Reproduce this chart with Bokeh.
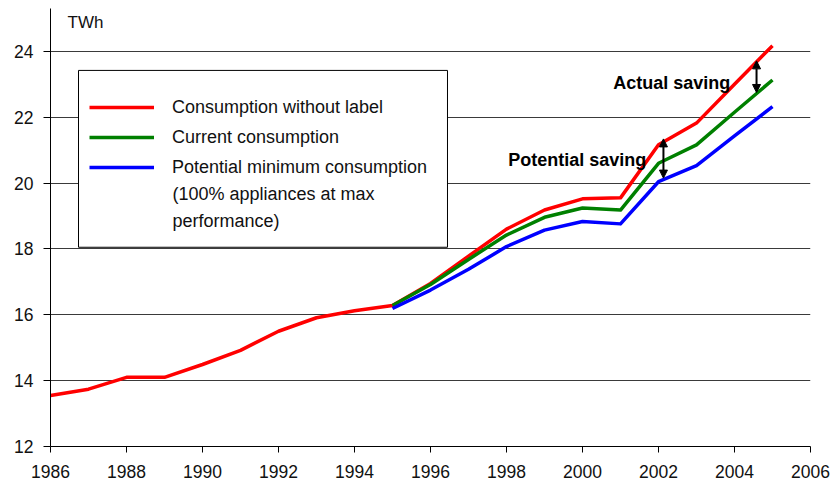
from bokeh.plotting import figure
from bokeh.models import (Range1d, FixedTicker, Legend, LegendItem, BoxAnnotation,
                          Label, Arrow, NormalHead)
from bokeh.embed import file_html
from bokeh.resources import INLINE

# ---- data ----
years = list(range(1986, 2006))
without_label = [13.55, 13.74, 14.10, 14.10, 14.49, 14.92, 15.50, 15.91, 16.12, 16.28,
                 16.95, 17.78, 18.60, 19.18, 19.52, 19.55, 21.16, 21.82, 23.00, 24.17]
years_new = list(range(1995, 2006))
current = [16.28, 16.92, 17.68, 18.42, 18.96, 19.24, 19.18, 20.60, 21.16, 22.15, 23.13]
potential_min = [16.19, 16.75, 17.38, 18.07, 18.57, 18.83, 18.76, 20.04, 20.53, 21.43, 22.32]

x_ticks = list(range(1986, 2007, 2))
y_ticks = list(range(12, 25, 2))

series_labels = ["Consumption without label", "Current consumption",
                 "Potential minimum consumption"]
extra_label_lines = ["(100% appliances at max", "performance)"]
unit_label = "TWh"
potential_text = "Potential saving"
actual_text = "Actual saving"

FONT = "Liberation Sans"

p = figure(width=831, height=483, output_backend="svg", toolbar_location=None,
           x_range=Range1d(1986, 2006), y_range=Range1d(12, 25.3),
           min_border_left=50, min_border_right=21, min_border_top=8, min_border_bottom=37)
p.outline_line_color = None
p.background_fill_color = "white"
p.border_fill_color = "white"

p.xgrid.visible = False
p.ygrid.ticker = FixedTicker(ticks=y_ticks)
p.ygrid.grid_line_color = "#3a3a3a"
p.ygrid.grid_line_width = 1

for ax in (p.xaxis[0], p.yaxis[0]):
    ax.axis_line_color = "black"
    ax.axis_line_width = 1
    ax.major_tick_line_color = "black"
    ax.major_tick_in = 0
    ax.minor_tick_line_color = None
    ax.major_label_text_font = FONT
    ax.major_label_text_font_size = "17.5px"
    ax.major_label_text_color = "#111111"

p.xaxis.ticker = FixedTicker(ticks=x_ticks)
p.xaxis.major_tick_out = 6
p.xaxis.major_label_standoff = 12
p.yaxis.ticker = FixedTicker(ticks=y_ticks)
p.yaxis.major_tick_out = 7
p.yaxis.major_label_standoff = 10

r_red = p.line(years, without_label, line_color="#ff0000", line_width=3.5, line_join="round")
r_green = p.line(years_new, current, line_color="#008000", line_width=3.5, line_join="round")
r_blue = p.line(years_new, potential_min, line_color="#0000ff", line_width=3.5, line_join="round")

# legend frame
box = BoxAnnotation(left=1986.737, right=1996.447, top=23.42, bottom=18.05,
                    fill_color="white", fill_alpha=1.0, line_color="black", line_width=1,
                    line_alpha=1.0)
p.add_layout(box)

legend = Legend(items=[LegendItem(label=series_labels[0], renderers=[r_red]),
                       LegendItem(label=series_labels[1], renderers=[r_green]),
                       LegendItem(label=series_labels[2], renderers=[r_blue])],
                location=(39, 267), glyph_width=65, glyph_height=24, label_height=24,
                spacing=6, label_standoff=18, padding=0, margin=0,
                border_line_color=None, background_fill_alpha=0,
                label_text_font=FONT, label_text_font_size="18px",
                label_text_color="#111111")
p.add_layout(legend)

for txt, yv in zip(extra_label_lines, [19.66, 18.84]):
    p.add_layout(Label(x=1989.21, y=yv, text=txt, text_baseline="middle",
                       text_font=FONT, text_font_size="18px", text_color="#111111"))

p.add_layout(Label(x=1986.45, y=24.88, text=unit_label, text_baseline="middle",
                   text_font=FONT, text_font_size="17px", text_color="#111111"))

p.add_layout(Label(x=2001.68, y=20.69, text=potential_text, text_align="right",
                   text_baseline="middle", text_font=FONT, text_font_size="18px",
                   text_font_style="bold", text_color="black"))
p.add_layout(Label(x=2003.89, y=23.03, text=actual_text, text_align="right",
                   text_baseline="middle", text_font=FONT, text_font_size="18px",
                   text_font_style="bold", text_color="black"))

for xa, y0, y1 in [(2002.13, 20.15, 21.34), (2004.58, 22.75, 23.71)]:
    p.add_layout(Arrow(x_start=xa, y_start=y0, x_end=xa, y_end=y1, line_width=2,
                       line_color="black",
                       start=NormalHead(size=8, fill_color="black", line_color="black"),
                       end=NormalHead(size=8, fill_color="black", line_color="black")))

open("out.html", "w").write(file_html(p, INLINE))
